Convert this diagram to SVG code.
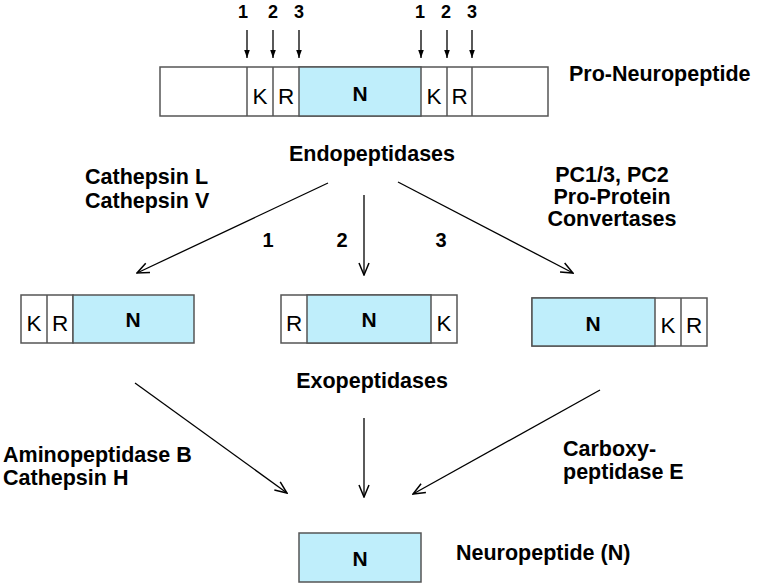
<svg xmlns="http://www.w3.org/2000/svg" width="757" height="584" viewBox="0 0 757 584">
<style>
.box{fill:#fff;stroke:#555;stroke-width:1.5}
.n{fill:#bfeefb;stroke:#555;stroke-width:1.5}
.lbl{font-family:"Liberation Sans",Arial,sans-serif;font-weight:bold;font-size:21.5px;fill:#000}
.num{font-family:"Liberation Sans",Arial,sans-serif;font-weight:bold;font-size:18px;fill:#000;text-anchor:middle}
.num2{font-family:"Liberation Sans",Arial,sans-serif;font-weight:bold;font-size:20px;fill:#000;text-anchor:middle}
.aa{font-family:"Liberation Sans",Arial,sans-serif;font-size:22.5px;fill:#000;text-anchor:middle}
.nn{font-family:"Liberation Sans",Arial,sans-serif;font-weight:bold;font-size:21px;fill:#000;text-anchor:middle}
.c{stroke:#000;stroke-width:1.3;fill:none}
</style>
<defs>
<marker id="tip" viewBox="0 0 10 10" refX="10" refY="5" markerWidth="8" markerHeight="8" markerUnits="userSpaceOnUse" orient="auto">
<path d="M0,1.5 L10,5 L0,8.5 Z" fill="#000"/>
</marker>
<marker id="chev" viewBox="0 0 14 12" refX="13" refY="6" markerWidth="14" markerHeight="12" markerUnits="userSpaceOnUse" orient="auto">
<path d="M1,1 L13,6 L1,11" fill="none" stroke="#000" stroke-width="1.5"/>
</marker>
</defs>

<g id="pro-neuropeptide">
<rect class="box" x="160" y="67" width="388" height="49"/>
<rect class="n" x="299" y="67" width="122" height="49"/>
<line x1="247" y1="67" x2="247" y2="116" stroke="#555" stroke-width="1.5"/>
<line x1="273" y1="67" x2="273" y2="116" stroke="#555" stroke-width="1.5"/>
<line x1="447" y1="67" x2="447" y2="116" stroke="#555" stroke-width="1.5"/>
<line x1="472" y1="67" x2="472" y2="116" stroke="#555" stroke-width="1.5"/>
<text class="aa" x="260" y="104">K</text>
<text class="aa" x="286" y="104">R</text>
<text class="nn" x="360" y="101">N</text>
<text class="aa" x="434" y="104">K</text>
<text class="aa" x="459.500" y="104">R</text>
<text class="lbl" x="569" y="81">Pro-Neuropeptide</text>
</g>

<g id="cleavage-sites">
<text class="num" x="243" y="18">1</text>
<text class="num" x="273" y="18">2</text>
<text class="num" x="299" y="18">3</text>
<text class="num" x="420" y="18">1</text>
<text class="num" x="446" y="18">2</text>
<text class="num" x="472" y="18">3</text>
</g>

<g id="frag-1">
<rect class="box" x="21" y="295" width="52" height="48"/>
<line x1="47" y1="295" x2="47" y2="343" stroke="#555" stroke-width="1.5"/>
<rect class="n" x="73" y="295" width="121" height="48"/>
<text class="aa" x="34" y="331">K</text>
<text class="aa" x="60" y="331">R</text>
<text class="nn" x="133" y="327">N</text>
</g>

<g id="frag-2">
<rect class="box" x="281" y="295" width="176" height="48"/>
<rect class="n" x="307" y="295" width="124" height="48"/>
<text class="aa" x="294" y="331">R</text>
<text class="nn" x="369" y="327">N</text>
<text class="aa" x="444" y="331">K</text>
</g>

<g id="frag-3">
<rect class="box" x="532" y="298" width="175" height="48"/>
<rect class="n" x="532" y="298" width="123" height="48"/>
<line x1="681" y1="298" x2="681" y2="346" stroke="#555" stroke-width="1.5"/>
<text class="nn" x="593" y="331">N</text>
<text class="aa" x="668" y="333">K</text>
<text class="aa" x="694" y="333">R</text>
</g>

<g id="neuropeptide">
<rect class="n" x="299" y="533" width="122" height="49"/>
<text class="nn" x="360" y="566">N</text>
<text class="lbl" x="456" y="560">Neuropeptide (N)</text>
</g>

<g id="enzyme-labels">
<text class="lbl" x="372" y="161" text-anchor="middle">Endopeptidases</text>
<text class="lbl" x="85" y="184">Cathepsin L</text>
<text class="lbl" x="85" y="208">Cathepsin V</text>
<text class="lbl" x="612" y="182" text-anchor="middle">PC1/3, PC2</text>
<text class="lbl" x="612" y="204" text-anchor="middle">Pro-Protein</text>
<text class="lbl" x="612" y="226" text-anchor="middle">Convertases</text>
<text class="num2" x="268" y="247">1</text>
<text class="num2" x="342" y="247">2</text>
<text class="num2" x="441" y="247">3</text>
<text class="lbl" x="372" y="388" text-anchor="middle">Exopeptidases</text>
<text class="lbl" x="3" y="462">Aminopeptidase B</text>
<text class="lbl" x="3" y="485">Cathepsin H</text>
<text class="lbl" x="563" y="456">Carboxy-</text>
<text class="lbl" x="563" y="479">peptidase E</text>
</g>

<g id="connectors">
<line class="c" x1="247" y1="30" x2="247" y2="58" marker-end="url(#tip)"/>
<line class="c" x1="273" y1="30" x2="273" y2="58" marker-end="url(#tip)"/>
<line class="c" x1="299" y1="30" x2="299" y2="58" marker-end="url(#tip)"/>
<line class="c" x1="421" y1="30" x2="421" y2="58" marker-end="url(#tip)"/>
<line class="c" x1="447" y1="30" x2="447" y2="58" marker-end="url(#tip)"/>
<line class="c" x1="472" y1="30" x2="472" y2="58" marker-end="url(#tip)"/>
<line class="c" x1="328" y1="183" x2="137" y2="273" marker-end="url(#chev)"/>
<line class="c" x1="364" y1="195" x2="364" y2="275" marker-end="url(#chev)"/>
<line class="c" x1="398" y1="182" x2="573" y2="273" stroke-width="2" marker-end="url(#chev)"/>
<line class="c" x1="135" y1="383" x2="287" y2="493" marker-end="url(#chev)"/>
<line class="c" x1="364" y1="418" x2="364" y2="497" marker-end="url(#chev)"/>
<line class="c" x1="600" y1="390" x2="413" y2="494" marker-end="url(#chev)"/>
</g>
</svg>
